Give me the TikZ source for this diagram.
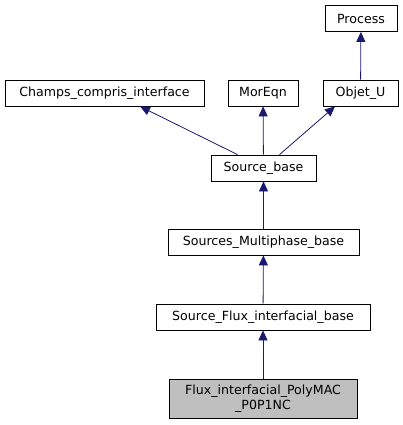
\documentclass[tikz,border=0pt]{standalone}
\usepackage{fontspec}
\setmainfont{DejaVu Sans}
\usetikzlibrary{arrows.meta}
\definecolor{edgeblue}{HTML}{191970}

\begin{document}
\begin{tikzpicture}[x=1pt, y=-1pt,
    cls/.style={rectangle, draw=black, fill=white, line width=0.8pt,
        minimum height=26pt, inner sep=0pt, text centered, text=black,
        font=\fontsize{12.6}{15}\selectfont},
    leaf/.style={cls, fill=black!25, align=center, minimum height=39pt},
    inh/.style={draw=edgeblue, line width=0.8pt,
        -{Triangle[length=10pt, width=9pt]}}
]
\useasboundingbox (0,0) rectangle (403,425);

\node (P) [cls, minimum width=72pt] at (361,18.5) {Process};
\node (CCI) [cls, minimum width=199pt] at (104.5,93) {Champs\_compris\_interface};
\node (ME) [cls, minimum width=70pt] at (263,93) {MorEqn};
\node (OU) [cls, minimum width=75pt] at (360.5,93) {Objet\_U};
\node (SB) [cls, minimum width=105pt] at (263.5,168) {Source\_base};
\node (SMB) [cls, minimum width=191pt] at (263.5,242) {Sources\_Multiphase\_base};
\node (SFIB) [cls, minimum width=214pt] at (263,317) {Source\_Flux\_interfacial\_base};
\node (FPM) [leaf, minimum width=188pt] at (263,398.5) {Flux\_interfacial\_PolyMAC\\\_P0P1NC};

\draw[inh] (OU) -- (P);
\draw[inh] ([xshift=-26pt]SB.north) -- ([xshift=35.5pt]CCI.south);
\draw[inh] (SB) -- (ME);
\draw[inh] ([xshift=16pt]SB.north) -- ([xshift=-25.5pt]OU.south);
\draw[inh] (SMB) -- (SB);
\draw[inh] (SFIB) -- (SMB);
\draw[inh] (FPM) -- (SFIB);

\end{tikzpicture}
\end{document}
